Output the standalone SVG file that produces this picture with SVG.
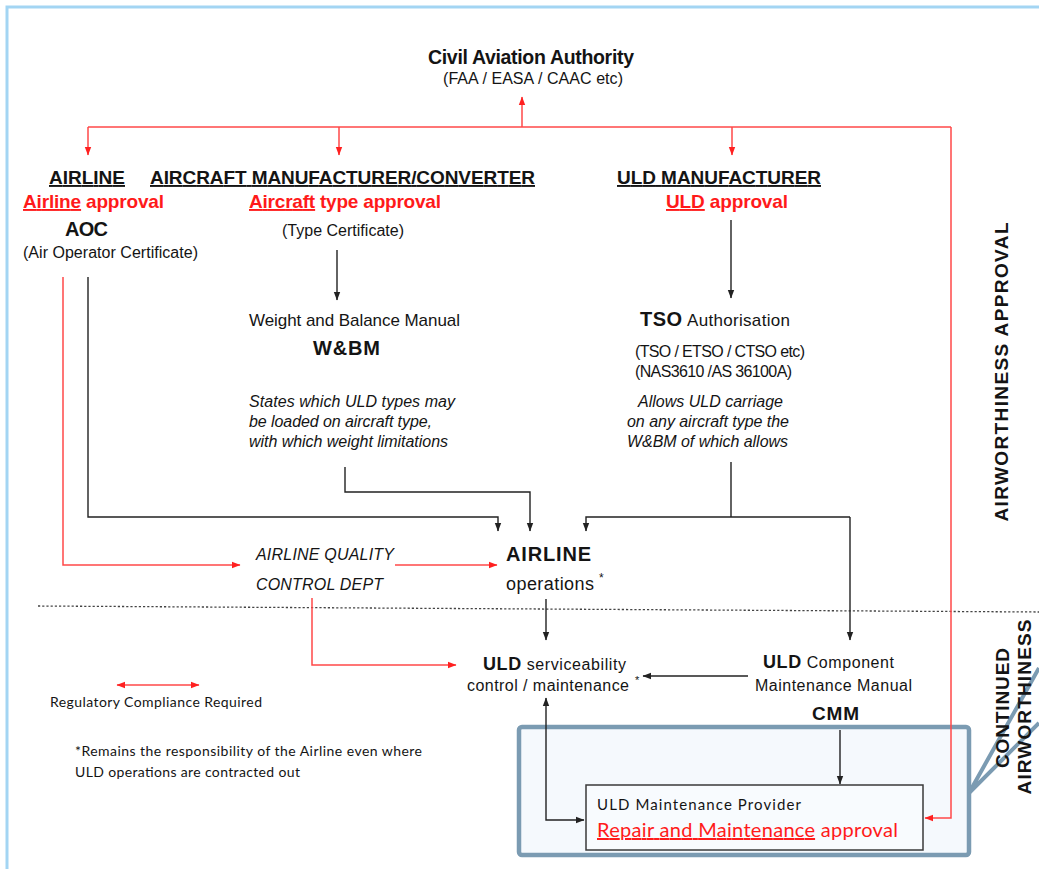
<svg xmlns="http://www.w3.org/2000/svg" width="1039" height="869" viewBox="0 0 1039 869">
<style>
text{font-family:"Liberation Sans",Arial,sans-serif;fill:#141414}
.b{font-weight:bold}
.r{fill:#ff1a1a}
.i{font-style:italic}
.c{font-family:Lato,"Open Sans",sans-serif}
.u{text-decoration:underline}
.ln{fill:none;stroke:#222;stroke-width:1.4}
.rl{fill:none;stroke:#ff4848;stroke-width:1.5}
.vt{font-weight:bold;font-size:19px}
</style>
<defs>
<marker id="ab" markerWidth="9" markerHeight="8" refX="8" refY="4" orient="auto-start-reverse" markerUnits="userSpaceOnUse"><path d="M0,0.8 L8.5,4 L0,7.2 z" fill="#222"/></marker>
<marker id="ar" markerWidth="9" markerHeight="8" refX="8" refY="4" orient="auto-start-reverse" markerUnits="userSpaceOnUse"><path d="M0,0.8 L8.5,4 L0,7.2 z" fill="#ff2020"/></marker>
</defs>
<rect x="0" y="0" width="1039" height="869" fill="#fff"/>
<path d="M7,869 L7,7 L1039,7" fill="none" stroke="#a3d5f3" stroke-width="3"/>
<path d="M38,606 L1039,612" fill="none" stroke="#444" stroke-width="1.3" stroke-dasharray="2.2,2"/>

<g id="caa">
<text class="b" x="428" y="64" font-size="19.5" textLength="206">Civil Aviation Authority</text>
<text x="443" y="84" font-size="16" textLength="180">(FAA / EASA / CAAC etc)</text>
</g>
<g id="airline">
<text class="b u" x="49" y="184" font-size="19" textLength="76">AIRLINE</text>
<text class="b r" x="23" y="208" font-size="19" textLength="141"><tspan class="u r">Airline</tspan> approval</text>
<text class="b" x="65" y="236" font-size="20" textLength="43">AOC</text>
<text x="23" y="258" font-size="16" textLength="175">(Air Operator Certificate)</text>
</g>
<g id="aircraft-manufacturer">
<text class="b u" x="150" y="184" font-size="19" textLength="385">AIRCRAFT MANUFACTURER/CONVERTER</text>
<text class="b r" x="249" y="208" font-size="19" textLength="192"><tspan class="u r">Aircraft</tspan> type approval</text>
<text x="282" y="236" font-size="16" textLength="122">(Type Certificate)</text>
</g>
<g id="uld-manufacturer">
<text class="b u" x="617" y="184" font-size="19" textLength="204">ULD MANUFACTURER</text>
<text class="b r" x="666" y="208" font-size="19" textLength="122"><tspan class="u r">ULD</tspan> approval</text>
</g>
<g id="wbm">
<text x="249" y="326" font-size="17" textLength="211">Weight and Balance Manual</text>
<text class="b" x="313" y="355" font-size="20" textLength="67">W&amp;BM</text>
<text class="i" x="249" y="407" font-size="16" textLength="206">States which ULD types may</text>
<text class="i" x="249" y="427" font-size="16" textLength="183">be loaded on aircraft type,</text>
<text class="i" x="249" y="447" font-size="16" textLength="199">with which weight limitations</text>
</g>
<g id="tso">
<text class="b" x="640" y="326" font-size="20" textLength="42">TSO</text>
<text x="687" y="326" font-size="17" textLength="103">Authorisation</text>
<text x="635" y="357" font-size="16" textLength="170">(TSO / ETSO / CTSO etc)</text>
<text x="635" y="377" font-size="16" textLength="157">(NAS3610 /AS 36100A)</text>
<text class="i" x="638" y="407" font-size="16" textLength="145">Allows ULD carriage</text>
<text class="i" x="627" y="427" font-size="16" textLength="162">on any aircraft type the</text>
<text class="i" x="627" y="447" font-size="16" textLength="161">W&amp;BM of which allows</text>
</g>
<g id="quality">
<text class="i" x="256" y="560" font-size="16" textLength="138">AIRLINE QUALITY</text>
<text class="i" x="256" y="590" font-size="16" textLength="127">CONTROL DEPT</text>
</g>
<g id="airline-ops">
<text class="b" x="506" y="561" font-size="20" textLength="85">AIRLINE</text>
<text x="506" y="590" font-size="18" textLength="88">operations</text>
<text x="599" y="582" font-size="12">*</text>
</g>
<g id="serviceability">
<text x="483" y="670" font-size="16" textLength="143"><tspan class="b" font-size="18">ULD</tspan> serviceability</text>
<text x="467" y="691" font-size="16" textLength="162">control / maintenance</text>
<text x="635" y="684" font-size="11">*</text>
</g>
<g id="cmm">
<text x="763" y="668" font-size="16" textLength="131"><tspan class="b" font-size="18">ULD</tspan> Component</text>
<text x="755" y="691" font-size="16" textLength="157">Maintenance Manual</text>
<text class="b" x="812" y="720" font-size="19" textLength="47">CMM</text>
</g>
<g id="legend">
<text class="c" x="50" y="707" font-size="14" textLength="212">Regulatory Compliance Required</text>
<text class="c" x="75" y="756" font-size="14" textLength="347">*Remains the responsibility of the Airline even where</text>
<text class="c" x="75" y="777" font-size="14" textLength="225">ULD operations are contracted out</text>
</g>
<g id="maintenance-provider">
<rect x="519" y="727" width="450" height="128" rx="3" fill="#f5f9fd" stroke="#7b9bb2" stroke-width="4.5"/>
<path d="M969,793 L1039,668 M969,793 L1039,723" fill="none" stroke="#7b9bb2" stroke-width="4"/>
<rect x="586" y="785" width="337" height="65" fill="#f8fbfe" stroke="#3a3a3a" stroke-width="1.5"/>
<text class="c" x="597" y="810" font-size="15" textLength="204">ULD Maintenance Provider</text>
<text class="c r" x="597" y="837" font-size="20" textLength="301"><tspan class="u r">Repair and Maintenance</tspan> approval</text>
</g>
<g id="side-labels">
<text class="vt" transform="translate(1008,372) rotate(-90)" text-anchor="middle" textLength="299">AIRWORTHINESS APPROVAL</text>
<text class="vt" transform="translate(1009,708) rotate(-90)" text-anchor="middle" textLength="120">CONTINUED</text>
<text class="vt" transform="translate(1031,707) rotate(-90)" text-anchor="middle" textLength="175">AIRWORTHINESS</text>
</g>
<g id="connectors">
<path class="rl" d="M522,127 L522,97" marker-end="url(#ar)"/>
<path class="rl" d="M88,127 L951,127"/>
<path class="rl" d="M88,127 L88,155" marker-end="url(#ar)"/>
<path class="rl" d="M339,127 L339,155" marker-end="url(#ar)"/>
<path class="rl" d="M732,127 L732,155" marker-end="url(#ar)"/>
<path class="rl" d="M951,127 L951,818 L925,818" marker-end="url(#ar)"/>
<path class="rl" d="M63,277 L63,565 L240,565" marker-end="url(#ar)"/>
<path class="rl" d="M395,565 L497,565" marker-end="url(#ar)"/>
<path class="rl" d="M312,598 L312,665 L456,665" marker-end="url(#ar)"/>
<path class="rl" d="M117,685 L199,685" marker-start="url(#ar)" marker-end="url(#ar)"/>
<path class="ln" d="M337,250 L337,300" marker-end="url(#ab)"/>
<path class="ln" d="M731,220 L731,298" marker-end="url(#ab)"/>
<path class="ln" d="M88,277 L88,517 L498,517 L498,531" marker-end="url(#ab)"/>
<path class="ln" d="M345,467 L345,492 L530,492 L530,531" marker-end="url(#ab)"/>
<path class="ln" d="M731,462 L731,517"/>
<path class="ln" d="M850,517 L586,517 L586,531" marker-end="url(#ab)"/>
<path class="ln" d="M850,517 L850,640" marker-end="url(#ab)"/>
<path class="ln" d="M546,599 L546,640" marker-end="url(#ab)"/>
<path class="ln" d="M748,676 L643,676" marker-end="url(#ab)"/>
<path class="ln" d="M546,698 L546,820 L584,820" marker-start="url(#ab)" marker-end="url(#ab)"/>
<path class="ln" d="M840,730 L840,784" marker-end="url(#ab)"/>
</g>
</svg>
